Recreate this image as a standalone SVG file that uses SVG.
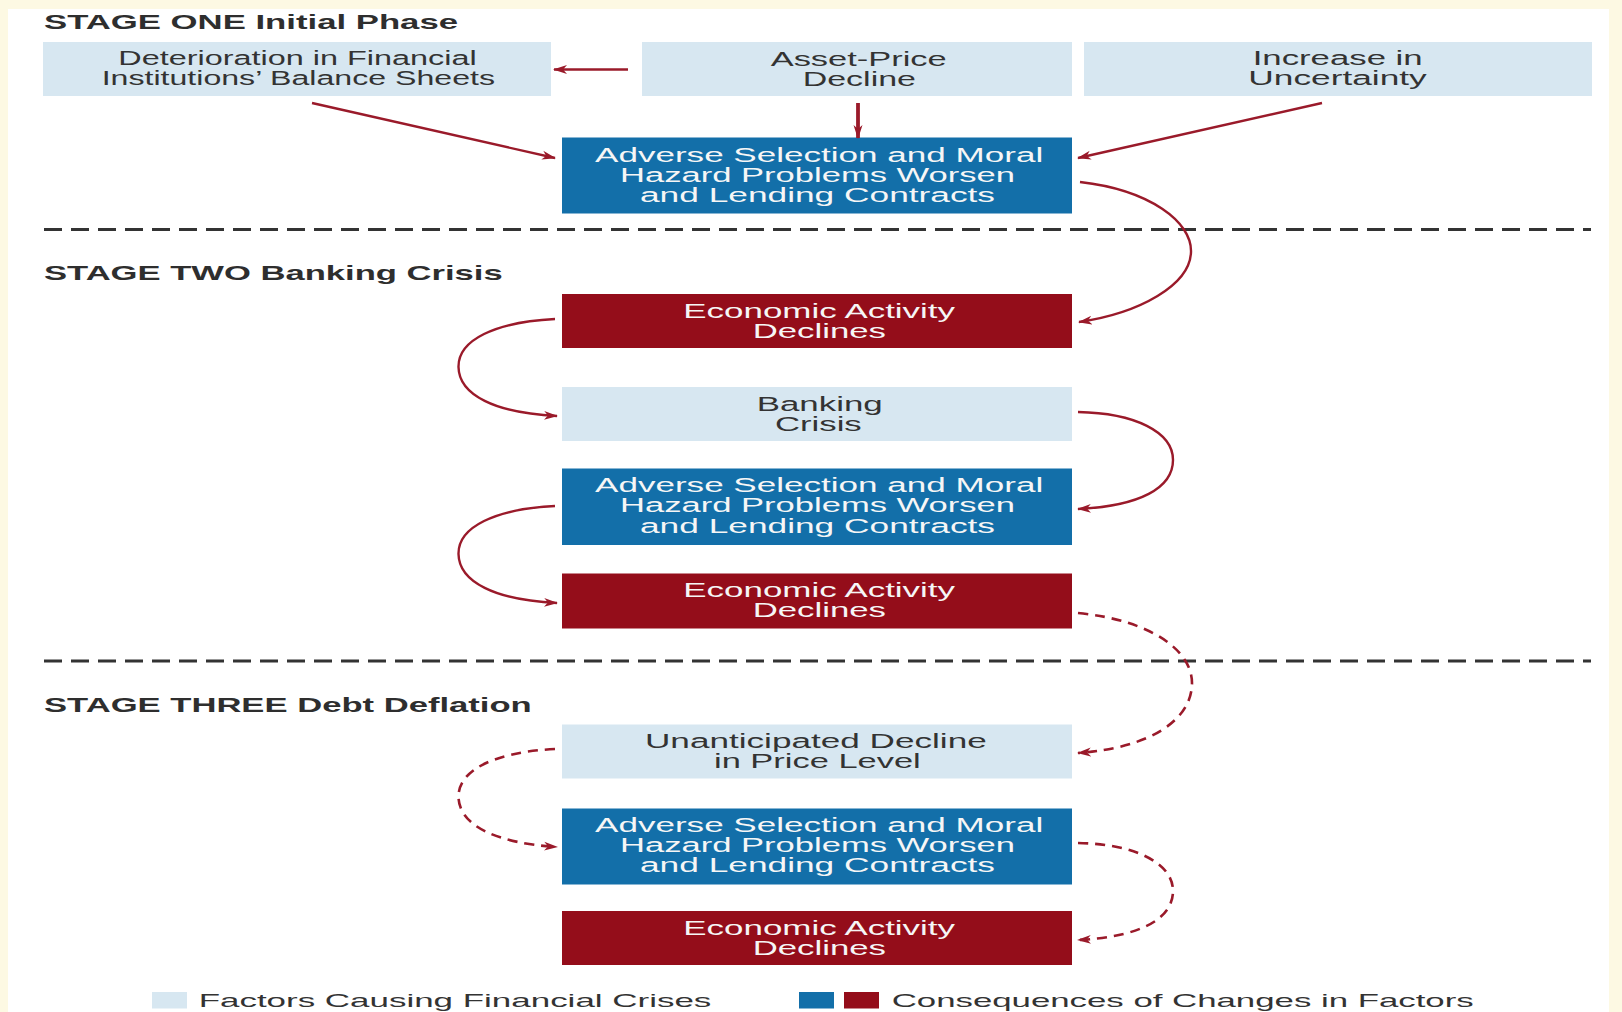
<svg xmlns="http://www.w3.org/2000/svg" width="1622" height="1012" viewBox="0 0 1622 1012">
<defs>
<style>
.t{font-family:"Liberation Sans",Arial,sans-serif;font-size:20px;}
.ti{font-family:"Liberation Sans",Arial,sans-serif;font-size:20.5px;font-weight:bold;fill:#2e2e2e;}
.lg{font-family:"Liberation Sans",Arial,sans-serif;font-size:19px;fill:#333;}
.dk{fill:#333;}
.wt{fill:#f6f6f6;}
.lb{fill:#d7e7f1;}
.bl{fill:#136fa9;}
.rd{fill:#940d1a;}
.c{fill:none;stroke:#9a1a2a;stroke-width:2.4;marker-end:url(#ah);}
.d{stroke-dasharray:10 7;stroke-width:2.6;}
.sep{stroke:#333;stroke-width:3;stroke-dasharray:18 9;}
</style>
<marker id="ah" viewBox="0 0 14 10" markerWidth="14" markerHeight="10" refX="13" refY="5" orient="auto" markerUnits="userSpaceOnUse"><path d="M0,0.5 L14,5 L0,9.5 L4,5 z" fill="#9a1a2a"/></marker>
</defs>
<rect x="0" y="0" width="1622" height="1012" fill="#fdf9e3"/>
<rect x="8" y="9" width="1601" height="1003" fill="#ffffff"/>

<g id="section-titles">
<text class="ti" x="44" y="28.5" textLength="414" lengthAdjust="spacingAndGlyphs">STAGE ONE Initial Phase</text>
<text class="ti" x="44" y="280" textLength="458.7" lengthAdjust="spacingAndGlyphs">STAGE TWO Banking Crisis</text>
<text class="ti" x="44" y="711.7" textLength="487.7" lengthAdjust="spacingAndGlyphs">STAGE THREE Debt Deflation</text>
</g>

<g id="separators">
<line class="sep" x1="44" y1="229.5" x2="1591" y2="229.5"/>
<line class="sep" x1="44" y1="661" x2="1591" y2="661"/>
</g>

<g id="node-deterioration">
<rect class="lb" x="43" y="42" width="508" height="54"/>
<text class="t dk" x="118.3" y="65.3" textLength="358.4" lengthAdjust="spacingAndGlyphs">Deterioration in Financial</text>
<text class="t dk" x="101.7" y="85.3" textLength="393.3" lengthAdjust="spacingAndGlyphs">Institutions’ Balance Sheets</text>
</g>
<g id="node-asset-price">
<rect class="lb" x="642" y="42" width="430" height="54"/>
<text class="t dk" x="770.7" y="66" textLength="176" lengthAdjust="spacingAndGlyphs">Asset-Price</text>
<text class="t dk" x="802.7" y="86" textLength="113.3" lengthAdjust="spacingAndGlyphs">Decline</text>
</g>
<g id="node-uncertainty">
<rect class="lb" x="1084" y="42" width="508" height="54"/>
<text class="t dk" x="1252.7" y="65.3" textLength="170" lengthAdjust="spacingAndGlyphs">Increase in</text>
<text class="t dk" x="1248.3" y="85.3" textLength="178.4" lengthAdjust="spacingAndGlyphs">Uncertainty</text>
</g>
<g id="node-adverse-1">
<rect class="bl" x="562" y="137.5" width="510" height="76"/>
<text class="t wt" x="595" y="162" textLength="448.3" lengthAdjust="spacingAndGlyphs">Adverse Selection and Moral</text>
<text class="t wt" x="620" y="182" textLength="395" lengthAdjust="spacingAndGlyphs">Hazard Problems Worsen</text>
<text class="t wt" x="640" y="202" textLength="355" lengthAdjust="spacingAndGlyphs">and Lending Contracts</text>
</g>
<g id="node-economic-1">
<rect class="rd" x="562" y="294" width="510" height="54"/>
<text class="t wt" x="683.3" y="317.5" textLength="271.7" lengthAdjust="spacingAndGlyphs">Economic Activity</text>
<text class="t wt" x="752.7" y="337.5" textLength="133.3" lengthAdjust="spacingAndGlyphs">Declines</text>
</g>
<g id="node-banking">
<rect class="lb" x="562" y="387" width="510" height="54"/>
<text class="t dk" x="756.7" y="411" textLength="126" lengthAdjust="spacingAndGlyphs">Banking</text>
<text class="t dk" x="775" y="430.5" textLength="86.7" lengthAdjust="spacingAndGlyphs">Crisis</text>
</g>
<g id="node-adverse-2">
<rect class="bl" x="562" y="468.5" width="510" height="76.5"/>
<text class="t wt" x="595" y="492" textLength="448.3" lengthAdjust="spacingAndGlyphs">Adverse Selection and Moral</text>
<text class="t wt" x="620" y="512.3" textLength="395" lengthAdjust="spacingAndGlyphs">Hazard Problems Worsen</text>
<text class="t wt" x="640" y="532.5" textLength="355" lengthAdjust="spacingAndGlyphs">and Lending Contracts</text>
</g>
<g id="node-economic-2">
<rect class="rd" x="562" y="573.5" width="510" height="55"/>
<text class="t wt" x="683.3" y="597.3" textLength="271.7" lengthAdjust="spacingAndGlyphs">Economic Activity</text>
<text class="t wt" x="752.7" y="617.3" textLength="133.3" lengthAdjust="spacingAndGlyphs">Declines</text>
</g>
<g id="node-unanticipated">
<rect class="lb" x="562" y="724.5" width="510" height="54"/>
<text class="t dk" x="645" y="748.3" textLength="341.7" lengthAdjust="spacingAndGlyphs">Unanticipated Decline</text>
<text class="t dk" x="714" y="767.7" textLength="206.7" lengthAdjust="spacingAndGlyphs">in Price Level</text>
</g>
<g id="node-adverse-3">
<rect class="bl" x="562" y="808.5" width="510" height="76"/>
<text class="t wt" x="595" y="832.3" textLength="448.3" lengthAdjust="spacingAndGlyphs">Adverse Selection and Moral</text>
<text class="t wt" x="620" y="852.3" textLength="395" lengthAdjust="spacingAndGlyphs">Hazard Problems Worsen</text>
<text class="t wt" x="640" y="872.3" textLength="355" lengthAdjust="spacingAndGlyphs">and Lending Contracts</text>
</g>
<g id="node-economic-3">
<rect class="rd" x="562" y="911" width="510" height="54"/>
<text class="t wt" x="683.3" y="935" textLength="271.7" lengthAdjust="spacingAndGlyphs">Economic Activity</text>
<text class="t wt" x="752.7" y="954.5" textLength="133.3" lengthAdjust="spacingAndGlyphs">Declines</text>
</g>

<g id="connectors">
<path class="c" d="M628,69.5 L554,69.5"/>
<path class="c" style="stroke-width:3.8" d="M858,103 L858,138"/>
<path class="c" d="M312,103 L555,158"/>
<path class="c" d="M1322,103 L1078,158"/>
<path class="c" d="M1080,182 C1150,190 1192,222 1191,252 C1190,285 1140,313 1079,322"/>
<path class="c" d="M555,319 C495,322 458,340 458.5,367 C459,395 495,413 557,416"/>
<path class="c" d="M1078,412 C1135,413 1173,432 1173,460 C1173,488 1140,506 1078,509"/>
<path class="c" d="M555,506 C495,509 458,527 458.5,554 C459,582 495,600 557,603"/>
<path class="c d" d="M1078,613 C1150,620 1192,650 1192,683 C1192,720 1150,748 1078,753"/>
<path class="c d" d="M555,749 C495,752 458,770 458.5,797 C459,825 495,843 557,847"/>
<path class="c d" d="M1078,843 C1135,844 1173,863 1173,891 C1173,919 1140,937 1078,940"/>
</g>

<g id="legend">
<rect class="lb" x="152" y="992" width="35" height="16.5"/>
<text class="lg" x="198.7" y="1006.7" textLength="512.6" lengthAdjust="spacingAndGlyphs">Factors Causing Financial Crises</text>
<rect class="bl" x="799" y="992" width="35" height="16.5"/>
<rect class="rd" x="844" y="992" width="35" height="16.5"/>
<text class="lg" x="891.7" y="1006.7" textLength="582" lengthAdjust="spacingAndGlyphs">Consequences of Changes in Factors</text>
</g>
</svg>
